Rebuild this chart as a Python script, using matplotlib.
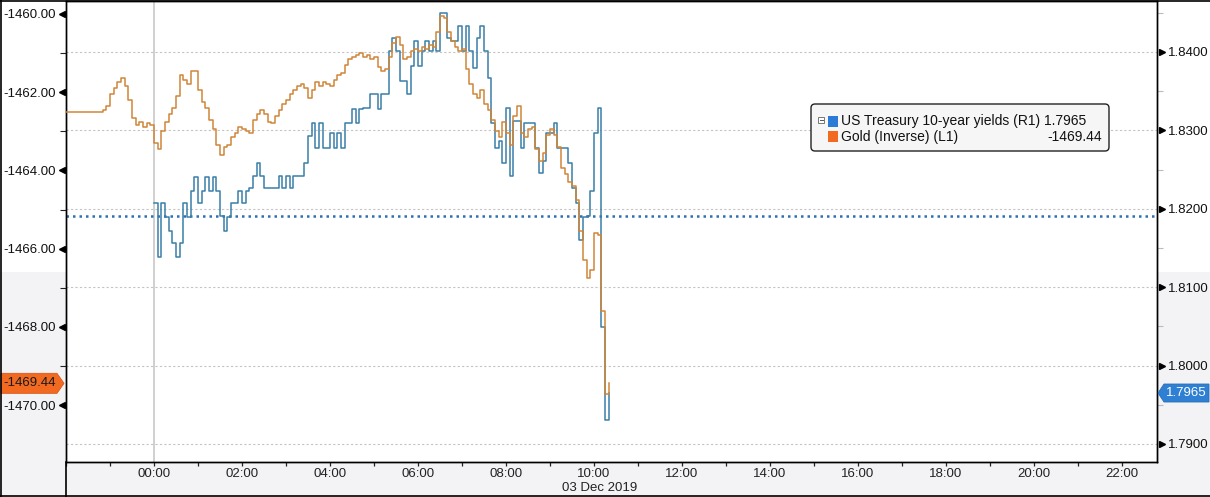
import matplotlib
matplotlib.use("Agg")
import numpy as np
import matplotlib.pyplot as plt
import matplotlib.transforms as mtransforms
from matplotlib.patches import Polygon, Rectangle, FancyBboxPatch
from matplotlib.lines import Line2D
from matplotlib.ticker import FixedLocator, FuncFormatter

plt.rcParams['font.family'] = ['Liberation Sans', 'DejaVu Sans']
plt.rcParams['axes.unicode_minus'] = False

# ---- data (hours relative to 03 Dec 2019 00:00, 5-minute bars) ----
BAR_MIN = 5
GOLD_START_H = -2.0
YIELD_START_H = 0.0
PREV_CLOSE_YIELD = 1.8191
DATE_LABEL = '03 Dec 2019'
GOLD_NAME = 'Gold (Inverse) (L1)'
YIELD_NAME = 'US Treasury 10-year yields (R1)'

# gold price, plotted inverted
gold = [
    1462.50, 1462.50, 1462.50, 1462.50, 1462.50, 1462.50, 1462.50, 1462.50, 1462.50,
    1462.50, 1462.45, 1462.35, 1462.05, 1461.90, 1461.75, 1461.65, 1461.85, 1462.20,
    1462.65, 1462.85, 1462.75, 1462.90, 1462.80, 1462.85,
    # 00:00
    1463.30, 1463.45, 1463.00, 1462.75, 1462.55, 1462.40, 1462.10, 1461.55, 1461.70, 1461.80, 1461.45, 1461.45,
    # 01:00
    1461.95, 1462.25, 1462.40, 1462.70, 1462.95, 1463.35, 1463.60, 1463.40, 1463.35, 1463.15, 1463.05, 1462.90,
    # 02:00
    1462.95, 1463.00, 1463.05, 1462.70, 1462.55, 1462.45, 1462.55, 1462.75, 1462.80, 1462.60, 1462.45, 1462.30,
    # 03:00
    1462.20, 1462.05, 1461.95, 1461.85, 1461.80, 1461.90, 1462.15, 1461.95, 1461.75, 1461.85, 1461.75, 1461.80,
    # 04:00
    1461.85, 1461.70, 1461.55, 1461.50, 1461.30, 1461.15, 1461.10, 1461.05, 1461.00, 1461.10, 1461.05, 1461.15,
    # 05:00
    1461.10, 1461.35, 1461.45, 1461.40, 1461.10, 1460.75, 1460.60, 1460.80, 1461.15, 1461.10, 1460.95, 1460.90,
    # 06:00
    1460.95, 1460.85, 1460.90, 1460.80, 1460.85, 1460.45, 1460.05, 1460.10, 1460.45, 1460.70, 1460.85, 1460.95,
    # 07:00
    1460.90, 1461.40, 1461.80, 1462.05, 1462.15, 1461.95, 1462.30, 1462.45, 1462.70, 1463.00, 1463.15, 1462.75,
    # 08:00
    1463.05, 1463.35, 1462.60, 1462.35, 1463.05, 1463.15, 1462.95, 1462.90, 1463.45, 1463.75, 1463.55, 1463.10,
    # 09:00
    1462.95, 1463.10, 1463.40, 1463.95, 1464.10, 1464.30, 1464.40, 1464.75, 1465.55, 1466.30, 1466.75, 1466.55,
    # 10:00
    1465.60, 1465.65, 1467.60, 1469.70, 1469.44,
]

yields = [
    # 00:00
    1.8207, 1.8138, 1.8207, 1.8189, 1.8172, 1.8156, 1.8138, 1.8156, 1.8207, 1.8189, 1.8223, 1.8240,
    # 01:00
    1.8207, 1.8223, 1.8240, 1.8223, 1.8240, 1.8223, 1.8191, 1.8172, 1.8189, 1.8207, 1.8207, 1.8223,
    # 02:00
    1.8207, 1.8223, 1.8226, 1.8242, 1.8258, 1.8242, 1.8226, 1.8226, 1.8226, 1.8226, 1.8242, 1.8226,
    # 03:00
    1.8242, 1.8226, 1.8242, 1.8242, 1.8242, 1.8259, 1.8293, 1.8310, 1.8278, 1.8310, 1.8278, 1.8278,
    # 04:00
    1.8296, 1.8278, 1.8296, 1.8278, 1.8310, 1.8310, 1.8327, 1.8310, 1.8327, 1.8329, 1.8329, 1.8347,
    # 05:00
    1.8347, 1.8327, 1.8347, 1.8347, 1.8401, 1.8418, 1.8401, 1.8363, 1.8363, 1.8347, 1.8382, 1.8414,
    # 06:00
    1.8382, 1.8401, 1.8414, 1.8401, 1.8414, 1.8401, 1.8450, 1.8450, 1.8418, 1.8414, 1.8414, 1.8433,
    # 07:00
    1.8401, 1.8433, 1.8401, 1.8380, 1.8418, 1.8433, 1.8401, 1.8367, 1.8310, 1.8278, 1.8287, 1.8258,
    # 08:00
    1.8329, 1.8242, 1.8312, 1.8312, 1.8278, 1.8310, 1.8310, 1.8310, 1.8278, 1.8245, 1.8261, 1.8296,
    # 09:00
    1.8296, 1.8310, 1.8278, 1.8278, 1.8278, 1.8259, 1.8226, 1.8207, 1.8160, 1.8189, 1.8191, 1.8223,
    # 10:00
    1.8296, 1.8329, 1.8049, 1.7931, 1.7965,
]

left_ticks = [-1470, -1468, -1466, -1464, -1462, -1460]
right_ticks = [1.79, 1.80, 1.81, 1.82, 1.83, 1.84]
hour_ticks = list(range(-2, 23, 2))

gold = np.array(gold)
yields = np.array(yields)
gold_t = GOLD_START_H + np.arange(len(gold)) * BAR_MIN / 60.0
yield_t = YIELD_START_H + np.arange(len(yields)) * BAR_MIN / 60.0
gold_inv = -gold

W, H = 1210, 497
fig = plt.figure(figsize=(W / 100, H / 100), dpi=100)
fig.patch.set_facecolor('white')
# pixel transform with origin at top-left
px = mtransforms.Affine2D().scale(1, -1).translate(0, H).scale(1 / fig.dpi) + fig.dpi_scale_trans

GREY = '#f3f2f4'
GOLD_C = '#cf8638'
BLUE_C = '#3a7ea8'

# margin shading
for x0, x1, y0, y1 in [(0, 66, 272, 462), (1157, W, 272, 462), (0, W, 462, H)]:
    fig.patches.append(Rectangle((x0, y0), x1 - x0, y1 - y0, transform=px,
                                 facecolor=GREY, edgecolor='none', zorder=-5))

ax = fig.add_axes([66 / W, (H - 462) / H, (1157 - 66) / W, 461 / H])
ax2 = ax.twinx()
ax.set_zorder(2)
ax.patch.set_visible(False)
ax2.patch.set_visible(True)
ax2.patch.set_facecolor('white')

ax.set_xlim(-2.0, 22.8)
ax.set_ylim(-1471.45, -1459.67)
ax2.set_ylim(1.7877, 1.8465)

# grid
ax2.set_yticks(right_ticks)
ax2.yaxis.set_minor_locator(FixedLocator([v + 0.005 for v in right_ticks]))
ax2.grid(axis='y', which='major', color='#c4c4c4', linestyle=(0, (2, 2)), linewidth=0.8)
ax2.set_xticks(hour_ticks)
ax2.grid(axis='x', which='major', color='#c4c4c4', linestyle=(0, (2, 2)), linewidth=0.8)
ax2.axvline(0, color='#c8c8c8', linewidth=1.2, zorder=1)

# series
ax2.axhline(PREV_CLOSE_YIELD, color='#2e6fb3', linestyle=(0, (1, 1.6)), linewidth=1.8, zorder=2)
ax2.step(yield_t, yields, where='post', color=BLUE_C, linewidth=1.1, zorder=3)
ax.step(gold_t, gold_inv, where='post', color=GOLD_C, linewidth=1.1, zorder=3)

# left axis
ax.set_yticks(left_ticks)
ax.yaxis.set_minor_locator(FixedLocator([v + 1 for v in left_ticks]))
ax.yaxis.set_major_formatter(FuncFormatter(lambda v, p: f'{v:.2f}'))
ax.tick_params(axis='y', which='major', length=0, pad=7, labelsize=9.5, labelcolor='#111111')
ax.tick_params(axis='y', which='minor', length=4, width=0.8, color='#222222')

# right axis
ax2.yaxis.set_major_formatter(FuncFormatter(lambda v, p: f'{v:.4f}'))
ax2.tick_params(axis='y', which='major', length=0, pad=8, labelsize=9.5, labelcolor='#111111')
ax2.tick_params(axis='y', which='minor', length=4, width=0.8, color='#bbbbbb')

# x axis
ax.set_xticks(hour_ticks)
ax.set_xticklabels(['' if h < 0 else f'{h % 24:02d}:00' for h in hour_ticks])
ax.xaxis.set_minor_locator(FixedLocator([h + 1 for h in hour_ticks]))
ax.tick_params(axis='x', which='both', length=3, width=0.9, color='#222222', pad=1.5,
               labelsize=9.5, labelcolor='#222222')
ax2.tick_params(axis='x', which='both', length=0)

for a in (ax, ax2):
    for s in a.spines.values():
        s.set_color('black')
        s.set_linewidth(1.0)

# triangular tick markers
lt = mtransforms.offset_copy(mtransforms.blended_transform_factory(ax.transAxes, ax.transData),
                             fig=fig, x=-4.5, units='dots')
ax.plot([0] * len(left_ticks), left_ticks, ls='none', marker='<', ms=4.5, color='black',
        transform=lt, clip_on=False, zorder=5)
rt = mtransforms.offset_copy(mtransforms.blended_transform_factory(ax2.transAxes, ax2.transData),
                             fig=fig, x=4.5, units='dots')
ax2.plot([1] * len(right_ticks), right_ticks, ls='none', marker='>', ms=4.5, color='black',
         transform=rt, clip_on=False, zorder=5)

fig.text(600 / W, 1 - 488 / H, DATE_LABEL, ha='center', va='center', fontsize=9.5, color='#222222')

# last-value flags
fig.canvas.draw()
inv = px.inverted()
gy = inv.transform(ax.transData.transform((0, gold_inv[-1])))[1]
yy = inv.transform(ax2.transData.transform((0, yields[-1])))[1]
fig.patches.append(Polygon([(1, gy - 10), (57, gy - 10), (64, gy), (57, gy + 10), (1, gy + 10)],
                           closed=True, transform=px, facecolor='#f26a21', edgecolor='#d9581a',
                           linewidth=0.6, zorder=10))
fig.text(30 / W, 1 - gy / H, f'{gold_inv[-1]:.2f}', ha='center',
         va='center', fontsize=9.5, color='#1a1a1a', zorder=11)
fig.patches.append(Polygon([(1158, yy), (1164, yy - 9), (1209, yy - 9), (1209, yy + 9), (1164, yy + 9)],
                           closed=True, transform=px, facecolor='#2f7fd2', edgecolor='#2a6fba',
                           linewidth=0.6, zorder=10))
fig.text(1186 / W, 1 - yy / H, f'{yields[-1]:.4f}', ha='center', va='center', fontsize=9.5,
         color='white', zorder=11)

# legend
fig.patches.append(FancyBboxPatch((811, 104), 298, 47, boxstyle='round,pad=0,rounding_size=4',
                                  transform=px, facecolor='#f6f6f6', edgecolor='#222222',
                                  linewidth=1.0, zorder=10))
fig.patches.append(Rectangle((818, 117), 6, 6, transform=px, facecolor='white',
                             edgecolor='#777777', linewidth=0.7, zorder=11))
fig.lines.append(Line2D([819.5, 822.5], [120, 120], transform=px, color='#555555', linewidth=0.7, zorder=12))
fig.patches.append(Rectangle((828, 115.5), 10, 11, transform=px, facecolor='#2b7bd6',
                             edgecolor='none', zorder=11))
fig.patches.append(Rectangle((828, 131), 10, 11, transform=px, facecolor='#f26a22',
                             edgecolor='none', zorder=11))
fig.text(841 / W, 1 - 121 / H, f'{YIELD_NAME} {yields[-1]:.4f}', ha='left', va='center',
         fontsize=10, color='#111111', zorder=12)
fig.text(841 / W, 1 - 137 / H, GOLD_NAME, ha='left', va='center', fontsize=10,
         color='#111111', zorder=12)
fig.text(1102 / W, 1 - 137 / H, f'{gold_inv[-1]:.2f}', ha='right', va='center', fontsize=10,
         color='#111111', zorder=12)

# outer frame
for xs, ys in [([0.5, 0.5], [0, H]), ([0, W], [0.5, 0.5]), ([0, W], [H - 1.5, H - 1.5]),
               ([66, 66], [462, H])]:
    fig.lines.append(Line2D(xs, ys, transform=px, color='black', linewidth=1.2, zorder=20))

fig.savefig('out.png', dpi=100)
